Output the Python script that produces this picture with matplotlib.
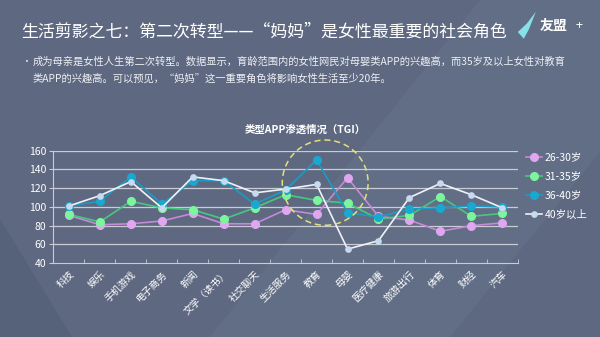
import matplotlib
matplotlib.use("Agg")
import matplotlib.pyplot as plt
from matplotlib.patches import Ellipse, Polygon
import numpy as np

plt.rcParams['font.family'] = ['Noto Sans CJK SC', 'DejaVu Sans']

categories = ['科技', '娱乐', '手机游戏', '电子商务', '新闻', '文学（读书）', '社交聊天', '生活服务',
              '教育', '母婴', '医疗健康', '旅游出行', '体育', '财经', '汽车']
s26_30 = [91, 81, 82, 85, 93, 82, 82, 97, 92, 131, 90, 86, 74, 80, 83]
s31_35 = [92, 84, 106, 99, 97, 87, 99, 113, 107, 104, 87, 91, 111, 90, 93]
s36_40 = [101, 106, 132, 103, 128, 128, 103, 118, 150, 94, 89, 98, 99, 101, 100]
s40p = [101, 112, 127, 99, 132, 128, 115, 119, 124, 55, 64, 110, 125, 113, 99]
series_names = ['26-30岁', '31-35岁', '36-40岁', '40岁以上']
yticks = [40, 60, 80, 100, 120, 140, 160]

bg = '#5e6981'
fig = plt.figure(figsize=(6, 3.37), dpi=100, facecolor=bg)

# subtle background bands
bgax = fig.add_axes([0, 0, 1, 1], zorder=-10)
bgax.set_xlim(0, 1); bgax.set_ylim(0, 1); bgax.axis('off')
bgax.add_patch(Polygon([[0, 0], [0.12, 0], [0, 0.35]], closed=True, color='#56617a', lw=0))
bgax.add_patch(Polygon([[0.35, 0], [0.75, 0], [1, 0.55], [1, 1], [0.8, 1]], closed=True,
                       color='#66728b', lw=0, alpha=0.6))

fig.text(0.035, 0.908, '生活剪影之七：第二次转型——“妈妈”是女性最重要的社会角色',
         color='white', fontsize=12.2, va='center', ha='left')
fig.text(0.036, 0.817, '•', color='#dfe3ea', fontsize=7, va='center')
fig.text(0.055, 0.817, '成为母亲是女性人生第二次转型。数据显示，育龄范围内的女性网民对母婴类APP的兴趣高，而35岁及以上女性对教育',
         color='#eef0f4', fontsize=7.4, va='center')
fig.text(0.055, 0.766, '类APP的兴趣高。可以预见，“妈妈”这一重要角色将影响女性生活至少20年。',
         color='#eef0f4', fontsize=7.4, va='center')
# logo
bgax.add_patch(Polygon([[0.863, 0.905], [0.878, 0.93], [0.893, 0.965], [0.882, 0.915], [0.873, 0.885]],
                       closed=True, color='#86e2e6', lw=0))
fig.text(0.900, 0.925, '友盟', color='white', fontsize=10, va='center', fontweight='bold')
fig.text(0.960, 0.925, '+', color='white', fontsize=9, va='center')

ax = fig.add_axes([0.089, 0.219, 0.774, 0.334])
ax.set_facecolor('none')
x = np.arange(len(categories))

styles = [
    (s26_30, '#c48ad6', '#e0a6f0', 5.5),
    (s31_35, '#45c97e', '#7cf59c', 5.5),
    (s36_40, '#1a9cc4', '#18a8d0', 5.5),
    (s40p, '#eef2f8', '#c8daf0', 3.8),
]
for (vals, lc, mc, ms), name in zip(styles, series_names):
    ax.plot(x, vals, color=lc, lw=1.2, marker='o', ms=ms, mfc=mc, mec=mc, label=name)

ax.set_xlim(-0.5, len(categories) - 0.5)
ax.set_ylim(40, 160)
ax.set_yticks(yticks)
ax.set_yticklabels([str(v) for v in yticks], color='white', fontsize=7.5)
for v in yticks[1:]:
    ax.axhline(v, color='#c9ccd4', lw=0.9, zorder=0)
ax.set_xticks(x)
ax.set_xticklabels(categories, rotation=45, ha='right', rotation_mode='anchor',
                   color='white', fontsize=7)
ax.set_xticks(np.arange(-0.5, len(categories), 1), minor=True)
ax.tick_params(axis='x', which='major', length=0, pad=4)
ax.tick_params(axis='x', which='minor', length=3, color='#c9ccd4', direction='in')
ax.tick_params(axis='y', length=3, color='#c9ccd4', pad=2)
for s in ['top', 'right']:
    ax.spines[s].set_visible(False)
ax.spines['left'].set_color('#c9ccd4')
ax.spines['bottom'].set_color('#c9ccd4')

fig.text(0.508, 0.617, '类型APP渗透情况（TGI）', color='white', fontsize=7.5,
         fontweight='bold', ha='center', va='center')

# dashed highlight circle
circ = Ellipse((0.542, 0.458), width=0.143, height=0.253, transform=fig.transFigure,
               fill=False, ls=(0, (4, 2.5)), ec='#e6df7a', lw=1.1)
fig.add_artist(circ)

leg = ax.legend(loc='upper left', bbox_to_anchor=(1.008, 1.02), frameon=False, fontsize=7.5,
                labelcolor='white', handlelength=1.6, labelspacing=0.85, handletextpad=0.25,
                borderaxespad=0)

fig.savefig('out.png', dpi=100, facecolor=bg)
